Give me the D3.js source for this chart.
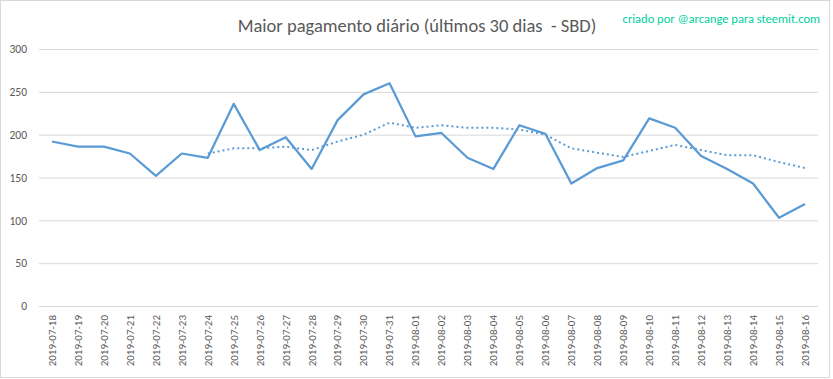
<!DOCTYPE html>
<html><head><meta charset="utf-8">
<script src="https://cdn.jsdelivr.net/npm/d3@7"></script>
<style>body{margin:0;background:#fff}svg{display:block}</style>
</head><body>
<svg id="c" width="833" height="379"></svg>
<script>
const dates = ["2019-07-18","2019-07-19","2019-07-20","2019-07-21","2019-07-22","2019-07-23","2019-07-24","2019-07-25","2019-07-26","2019-07-27","2019-07-28","2019-07-29","2019-07-30","2019-07-31","2019-08-01","2019-08-02","2019-08-03","2019-08-04","2019-08-05","2019-08-06","2019-08-07","2019-08-08","2019-08-09","2019-08-10","2019-08-11","2019-08-12","2019-08-13","2019-08-14","2019-08-15","2019-08-16"];
const values = [192,186,186,178,152,178,173,236,182,197,160,217,247,260,198,202,173,160,211,201,143,161,170,219,208,175,160,143,103,119];
const trend = [null,null,null,null,null,null,178,184,184,186,182,192,200,214,208,211,208,208,206,200,184,179,174,181,188,182,176,176,168,161];
const yTicks = [0,50,100,150,200,250,300];
const title = "Maior pagamento diário (últimos 30 dias  - SBD)";
const credit = "criado por @arcange para steemit.com";

const svg = d3.select("#c");
const W = 833, H = 379;
const m = {left:39, right:15, top:49, bottom:73};
svg.append("rect").attr("x",0.5).attr("y",0.5).attr("width",W-4).attr("height",H-2)
  .attr("fill","#fff").attr("stroke","#d9d9d9");

const x = d3.scaleBand().domain(dates).range([m.left, W-m.right]);
const y = d3.scaleLinear().domain([0,300]).range([H-m.bottom, m.top]);

const font = "Calibri, Carlito, 'Open Sans', sans-serif";

// grid
const yAxis = d3.axisLeft(y).tickValues(yTicks).tickSize(-(W-m.right-m.left)).tickPadding(12);
const gy = svg.append("g").attr("transform",`translate(${m.left},0)`).call(yAxis);
gy.select(".domain").remove();
gy.selectAll(".tick line").attr("stroke","#d9d9d9").attr("stroke-width",1);
gy.selectAll(".tick text").attr("fill","#595959").attr("font-size","11.5px").attr("font-family",font);

const xAxis = d3.axisBottom(x).tickSize(0).tickPadding(0);
const gx = svg.append("g").attr("transform",`translate(0,${H-m.bottom})`).call(xAxis);
gx.select(".domain").remove();
gx.selectAll(".tick text").attr("fill","#595959").attr("font-size","11px").attr("font-family",font)
  .attr("transform","rotate(-90)").attr("text-anchor","end").attr("dx","-9px").attr("dy","0.35em").attr("y",0).attr("x",0);

const line = d3.line().defined(d=>d!=null)
  .x((d,i)=>x(dates[i])+x.bandwidth()/2).y(d=>y(d));

svg.append("path").datum(trend).attr("d",line).attr("fill","none")
  .attr("stroke","#5B9BD5").attr("stroke-width",2).attr("stroke-dasharray","2,3");
svg.append("path").datum(values).attr("d",line).attr("fill","none")
  .attr("stroke","#5B9BD5").attr("stroke-width",2.25).attr("stroke-linejoin","round");

svg.append("text").attr("x",417).attr("y",32).attr("text-anchor","middle").style("white-space","pre")
  .attr("fill","#595959").attr("font-size","18.5px").attr("font-family",font).attr("font-weight",300).text(title);
svg.append("text").attr("x",820).attr("y",23).attr("text-anchor","end")
  .attr("fill","#00D0A0").attr("font-size","12.5px").attr("font-family",font).text(credit);
</script>
</body></html>
